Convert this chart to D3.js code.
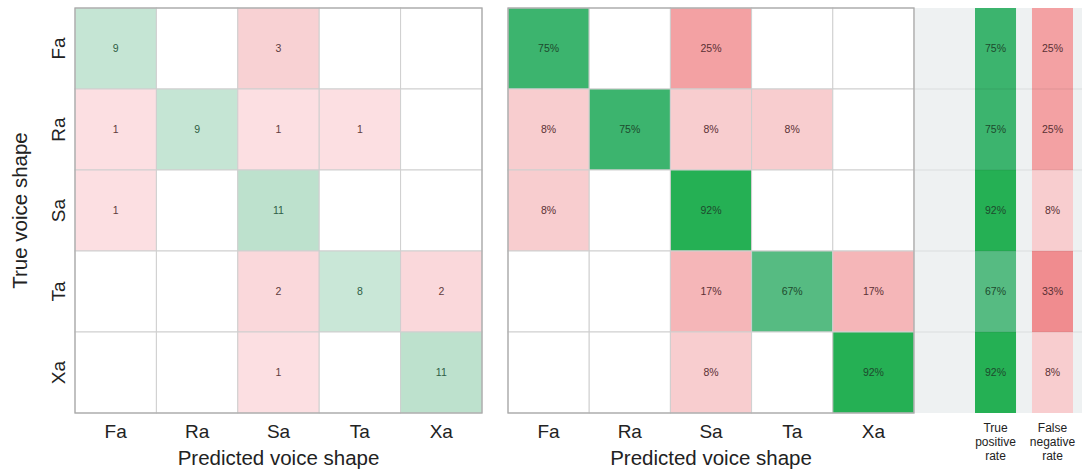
<!DOCTYPE html>
<html>
<head>
<meta charset="utf-8">
<script src="https://cdn.jsdelivr.net/npm/d3@7"></script>
<style>
  body { margin: 0; background: #fff; }
  svg { display: block; font-family: "Liberation Sans", Arial, sans-serif; }
</style>
</head>
<body>
<script>
const categories = ["Fa", "Ra", "Sa", "Ta", "Xa"];
// rows = true class, columns = predicted class
const counts = [
  [9, 0, 3, 0, 0],
  [1, 9, 1, 1, 0],
  [1, 0, 11, 0, 0],
  [0, 0, 2, 8, 2],
  [0, 0, 1, 0, 11]
];
const rowPercent = [
  [75, 0, 25, 0, 0],
  [8, 75, 8, 8, 0],
  [8, 0, 92, 0, 0],
  [0, 0, 17, 67, 17],
  [0, 0, 8, 0, 92]
];
const tpr = [75, 75, 92, 67, 92];
const fnr = [25, 25, 8, 33, 8];
const summaryCols = ["tpr", "fnr"];
const summaryLabels = [["True", "positive", "rate"], ["False", "negative", "rate"]];

const width = 1085;
const height = 471;
const svg = d3
  .select("body")
  .append("svg")
  .attr("width", width)
  .attr("height", height);

const y = d3.scaleBand().domain(categories).range([8, 413]);
const xLeft = d3.scaleBand().domain(categories).range([75, 482]);
const xRight = d3.scaleBand().domain(categories).range([508, 914]);
const xSum = d3.scaleBand().domain(summaryCols).range([975, 1073]).paddingInner(0.28);

// colours
const countGreen = d3.scaleLinear().domain([8, 11]).range(["#c9e7d7", "#bde1cd"]).clamp(true);
const countPink = d3.scaleLinear().domain([1, 3]).range(["#fcdfe2", "#f8d1d3"]).clamp(true);
const pctGreen = d3.scaleLinear().domain([60, 75, 100]).range(["#6cc193", "#3cb46e", "#1aae48"]).clamp(true);
const pctPink = d3.scaleLinear().domain([0, 33]).range(["#fbe2e3", "#f08c8f"]).clamp(true);

const cells = [];
counts.forEach((row, i) =>
  row.forEach((v, j) =>
    cells.push({ r: categories[i], c: categories[j], diag: i === j, n: v, p: rowPercent[i][j] })
  )
);

function drawMatrix(x, fill, label, textColor) {
  const g = svg.append("g");
  g.selectAll("rect")
    .data(cells)
    .enter()
    .append("rect")
    .attr("x", (d) => x(d.c))
    .attr("y", (d) => y(d.r))
    .attr("width", x.bandwidth())
    .attr("height", y.bandwidth())
    .attr("fill", fill)
    .attr("stroke", "#cfcfcf")
    .attr("stroke-width", 1);
  g.selectAll("text")
    .data(cells.filter((d) => d.n > 0))
    .enter()
    .append("text")
    .attr("x", (d) => x(d.c) + x.bandwidth() / 2)
    .attr("y", (d) => y(d.r) + y.bandwidth() / 2)
    .attr("dy", "0.35em")
    .attr("text-anchor", "middle")
    .attr("font-size", 10.5)
    .attr("fill", textColor)
    .text(label);
  // outer frame
  g.append("rect")
    .attr("x", x.range()[0])
    .attr("y", y.range()[0])
    .attr("width", x.range()[1] - x.range()[0])
    .attr("height", y.range()[1] - y.range()[0])
    .attr("fill", "none")
    .attr("stroke", "#a8a8a8")
    .attr("stroke-width", 1.2);
  // x tick labels
  g.selectAll(".xt")
    .data(categories)
    .enter()
    .append("text")
    .attr("x", (d) => x(d) + x.bandwidth() / 2)
    .attr("y", 438)
    .attr("text-anchor", "middle")
    .attr("font-size", 19)
    .attr("fill", "#222")
    .text((d) => d);
  g.append("text")
    .attr("x", (x.range()[0] + x.range()[1]) / 2)
    .attr("y", 465)
    .attr("text-anchor", "middle")
    .attr("font-size", 20.5)
    .attr("fill", "#222")
    .text("Predicted voice shape");
}

drawMatrix(
  xLeft,
  (d) => (d.n === 0 ? "#fff" : d.diag ? countGreen(d.n) : countPink(d.n)),
  (d) => d.n,
  (d) => (d.diag ? "#2f5e45" : "#5e3c3e")
);
drawMatrix(
  xRight,
  (d) => (d.p === 0 ? "#fff" : d.diag ? pctGreen(d.p) : pctPink(d.p)),
  (d) => d.p + "%",
  (d) => (d.diag ? "#1d4a2d" : "#5a3034")
);

// y axis labels
svg.selectAll(".yt")
  .data(categories)
  .enter()
  .append("text")
  .attr("transform", (d) => `translate(65,${y(d) + y.bandwidth() / 2}) rotate(-90)`)
  .attr("text-anchor", "middle")
  .attr("font-size", 19)
  .attr("fill", "#222")
  .text((d) => d);
svg.append("text")
  .attr("transform", `translate(27,${(y.range()[0] + y.range()[1]) / 2}) rotate(-90)`)
  .attr("text-anchor", "middle")
  .attr("font-size", 20.5)
  .attr("fill", "#222")
  .text("True voice shape");

// summary panel
const sg = svg.append("g");
sg.append("rect")
  .attr("x", 915)
  .attr("y", y.range()[0])
  .attr("width", 167)
  .attr("height", y.range()[1] - y.range()[0])
  .attr("fill", "#eef1f2");
const sumCells = [];
categories.forEach((c, i) => {
  sumCells.push({ r: c, col: "tpr", v: tpr[i] });
  sumCells.push({ r: c, col: "fnr", v: fnr[i] });
});
sg.selectAll(".sc")
  .data(sumCells)
  .enter()
  .append("rect")
  .attr("x", (d) => xSum(d.col))
  .attr("y", (d) => y(d.r))
  .attr("width", xSum.bandwidth())
  .attr("height", y.bandwidth())
  .attr("fill", (d) => (d.col === "tpr" ? pctGreen(d.v) : pctPink(d.v)));
sg.selectAll(".hl")
  .data(categories.slice(1))
  .enter()
  .append("line")
  .attr("x1", 915)
  .attr("x2", 1082)
  .attr("y1", (d) => y(d))
  .attr("y2", (d) => y(d))
  .attr("stroke", "#000")
  .attr("stroke-opacity", 0.08);
sg.selectAll(".st")
  .data(sumCells)
  .enter()
  .append("text")
  .attr("x", (d) => xSum(d.col) + xSum.bandwidth() / 2)
  .attr("y", (d) => y(d.r) + y.bandwidth() / 2)
  .attr("dy", "0.35em")
  .attr("text-anchor", "middle")
  .attr("font-size", 10.5)
  .attr("fill", (d) => (d.col === "tpr" ? "#1d4a2d" : "#5a3034"))
  .text((d) => d.v + "%");
summaryCols.forEach((col, k) => {
  sg.append("text")
    .attr("text-anchor", "middle")
    .attr("font-size", 12)
    .attr("fill", "#222")
    .selectAll("tspan")
    .data(summaryLabels[k])
    .enter()
    .append("tspan")
    .attr("x", xSum(col) + xSum.bandwidth() / 2)
    .attr("y", (_, i) => 432 + i * 14)
    .text((d) => d);
});
</script>
</body>
</html>
